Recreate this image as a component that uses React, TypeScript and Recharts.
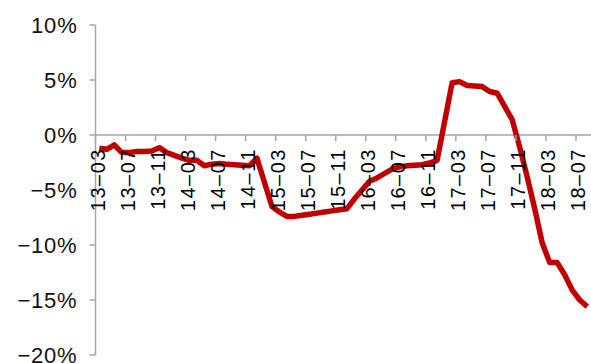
import React from 'react';
import { LineChart, Line, XAxis, YAxis, ReferenceLine } from 'recharts';

const months = [
  '13-03','13-04','13-05','13-06','13-07','13-08','13-09','13-10','13-11','13-12',
  '14-01','14-02','14-03','14-04','14-05','14-06','14-07','14-08','14-09','14-10','14-11','14-12',
  '15-01','15-02','15-03','15-04','15-05','15-06','15-07','15-08','15-09','15-10','15-11','15-12',
  '16-01','16-02','16-03','16-04','16-05','16-06','16-07','16-08','16-09','16-10','16-11','16-12',
  '17-01','17-02','17-03','17-04','17-05','17-06','17-07','17-08','17-09','17-10','17-11','17-12',
  '18-01','18-02','18-03','18-04','18-05','18-06','18-07','18-08',
];

// year-over-year change, in %
const yoyPct = [
  -1.2, -1.3, -0.9, -1.6, -1.6, -1.5, -1.5, -1.45, -1.15, -1.6,
  -1.85, -2.1, -2.3, -2.3, -2.8, -2.65, -2.6, -2.65, -2.7, -2.75, -2.8, -2.1,
  -4.3, -6.5, -7.0, -7.4, -7.4, -7.3, -7.2, -7.1, -7.0, -6.9, -6.8, -6.7,
  -5.8, -5.0, -4.2, -3.9, -3.5, -3.1, -2.9, -2.8, -2.75, -2.7, -2.55, -2.3,
  1.2, 4.75, 4.85, 4.5, 4.45, 4.4, 3.95, 3.8, 2.6, 1.4, -1.1, -3.8,
  -6.7, -9.8, -11.6, -11.6, -12.7, -14.1, -15.0, -15.6,
];

const xTickLabels = [
  '13-03','13-07','13-11','14-03','14-07','14-11','15-03','15-07','15-11',
  '16-03','16-07','16-11','17-03','17-07','17-11','18-03','18-07',
];

const yTicks = [10, 5, 0, -5, -10, -15, -20];

const data = months.map((m, i) => ({ month: m, value: yoyPct[i] }));

const W = 591;
const H = 363;
const TOP = 25;
const X_AXIS_H = 8;
const Y_AXIS_W = 95.5;
const Y_MIN = -20;
const Y_MAX = 10;
const PLOT_H = H - TOP - X_AXIS_H;
const ZERO_Y = TOP + ((Y_MAX - 0) / (Y_MAX - Y_MIN)) * PLOT_H;
const HALF_BAND = (W - Y_AXIS_W) / months.length / 2;

const AXIS = '#A6A6A6';
const RED = '#C00000';
const FONT = '"Liberation Sans", Arial, sans-serif';

const fmtY = (v: number) => (v < 0 ? '\u2212' : '') + Math.abs(v) + '%';

const XTick = (props: any) => {
  const { x, payload } = props;
  const bx = x - HALF_BAND;
  const ty = ZERO_Y + 13;
  const tx = x - 1.5;
  return (
    <g>
      <line x1={bx} x2={bx} y1={ZERO_Y} y2={ZERO_Y + 6} stroke={AXIS} strokeWidth={1.5} />
      <text
        x={tx}
        y={ty}
        transform={`rotate(-90 ${tx} ${ty})`}
        textAnchor="end"
        dominantBaseline="central"
        fontSize={20}
        fontFamily={FONT}
        fill="#000"
        letterSpacing={1.5}
      >
        {String(payload.value).replace('-', '\u2013')}
      </text>
    </g>
  );
};

const YTick = (props: any) => {
  const { x, y, payload } = props;
  return (
    <text
      x={x}
      y={y}
      textAnchor="end"
      dominantBaseline="central"
      fontSize={22}
      fontFamily={FONT}
      fill="#111"
      letterSpacing={0.8}
    >
      {fmtY(payload.value)}
    </text>
  );
};

export default function App() {
  return (
    <div style={{ position: 'absolute', left: 0, top: 0, width: W, height: H, background: '#fff' }}>
      <LineChart
        width={W}
        height={H}
        data={data}
        margin={{ top: TOP, right: 0, bottom: 0, left: 0 }}
      >
        <XAxis
          dataKey="month"
          type="category"
          height={X_AXIS_H}
          axisLine={false}
          tickLine={false}
          ticks={xTickLabels}
          interval={0}
          padding={{ left: HALF_BAND, right: HALF_BAND }}
          tick={<XTick />}
        />
        <YAxis
          width={Y_AXIS_W}
          domain={[Y_MIN, Y_MAX]}
          ticks={yTicks}
          interval={0}
          axisLine={{ stroke: AXIS, strokeWidth: 1.5 }}
          tickLine={{ stroke: AXIS, strokeWidth: 1.5 }}
          tickSize={6}
          tickMargin={12}
          tick={<YTick />}
        />
        <ReferenceLine y={0} stroke={AXIS} strokeWidth={1.5} ifOverflow="extendDomain" />
        <Line
          type="linear"
          dataKey="value"
          stroke={RED}
          strokeWidth={5.5}
          dot={false}
          strokeLinejoin="round"
          isAnimationActive={false}
        />
      </LineChart>
    </div>
  );
}
